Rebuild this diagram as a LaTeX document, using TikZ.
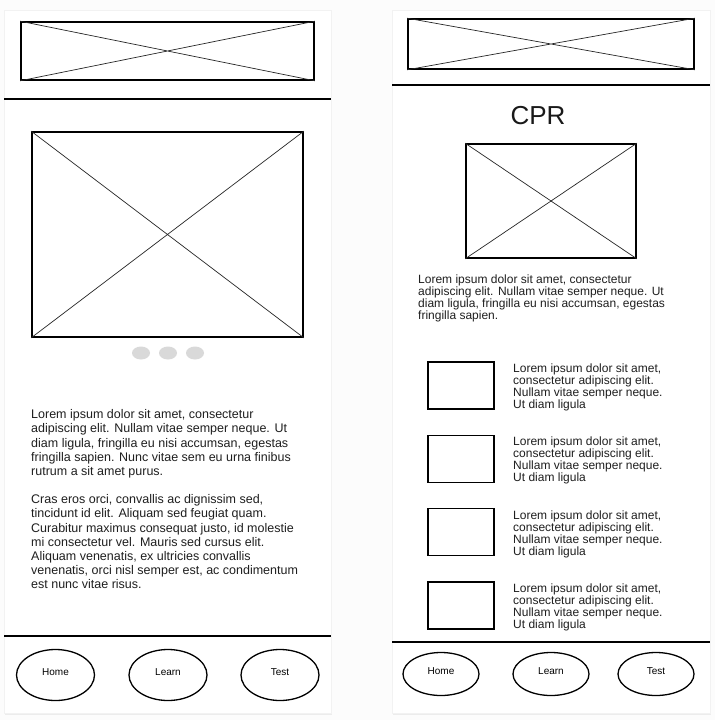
\documentclass[tikz,border=0pt]{standalone}
\usepackage{fontspec}
\setmainfont{Liberation Sans}
\usetikzlibrary{shapes.geometric,shadows}

\begin{document}
\begin{tikzpicture}[x=1pt,y=-1pt,
  panel/.style={fill=white, draw=black!5, drop shadow={opacity=0.12, shadow xshift=0.5pt, shadow yshift=-1.5pt}},
  imgbox/.style={draw, line width=1.6pt, inner sep=0pt},
  xline/.style={line width=0.7pt, black!85},
  sepline/.style={line width=1.4pt},
  dot/.style={ellipse, fill=black!15, minimum width=18pt, minimum height=13pt, inner sep=0pt},
  navbtn/.style={draw, ellipse, line width=1.3pt, inner sep=0pt, font=\fontsize{10}{12}\selectfont, text depth=5pt},
  bodytext/.style={align=left, inner sep=0pt, anchor=north west, text=black!88}]
  \useasboundingbox[fill=black!1] (0,0) rectangle (715,720);

  % home screen
  \fill[panel] (4,10) rectangle (331,713);
  \node[imgbox, minimum width=293pt, minimum height=58pt] (bannerL) at (167.5,51) {};
  \draw[sepline] (4,99)--(331,99);
  \node[imgbox, minimum width=271pt, minimum height=205pt] (slide) at (167.5,234.5) {};
  \foreach \x [count=\i] in {141,168,195}
    \node[dot] (dot\i) at (\x,353) {};
  \node[bodytext, font=\fontsize{12.5}{14.17}\selectfont] (introtext) at (31,409.5)
    {Lorem ipsum dolor sit amet, consectetur\\adipiscing elit. Nullam vitae semper neque. Ut\\diam ligula, fringilla eu nisi accumsan, egestas\\fringilla sapien. Nunc vitae sem eu urna finibus\\rutrum a sit amet purus.};
  \node[bodytext, font=\fontsize{12.5}{14.17}\selectfont] (moretext) at (31,494.4)
    {Cras eros orci, convallis ac dignissim sed,\\tincidunt id elit. Aliquam sed feugiat quam.\\Curabitur maximus consequat justo, id molestie\\mi consectetur vel. Mauris sed cursus elit.\\Aliquam venenatis, ex ultricies convallis\\venenatis, orci nisl semper est, ac condimentum\\est nunc vitae risus.};
  \draw[sepline] (4,636)--(331,636);
  \node[navbtn, minimum width=78pt, minimum height=51pt] (homeL) at (55.5,675) {Home};
  \node[navbtn, minimum width=78pt, minimum height=51pt] (learnL) at (168,675) {Learn};
  \node[navbtn, minimum width=78pt, minimum height=51pt] (testL) at (280,675) {Test};

  % CPR screen
  \fill[panel] (392,10) rectangle (710,713);
  \node[imgbox, minimum width=286pt, minimum height=50pt] (bannerR) at (551,44) {};
  \draw[sepline] (392,85)--(710,85);
  \node[font=\fontsize{26}{30}\selectfont, text=black!90] (title) at (538,116) {CPR};
  \node[imgbox, minimum width=170pt, minimum height=114pt] (cprimg) at (551,201) {};
  \node[bodytext, font=\fontsize{12}{12.3}\selectfont] (cprtext) at (418,274.2)
    {Lorem ipsum dolor sit amet, consectetur\\adipiscing elit. Nullam vitae semper neque. Ut\\diam ligula, fringilla eu nisi accumsan, egestas\\fringilla sapien.};
  \foreach \i in {1,...,4} {
    \node[imgbox, minimum width=66pt, minimum height=47pt] (step\i) at (461,{385.5+73.33*(\i-1)}) {};
    \node[bodytext, font=\fontsize{12}{12}\selectfont] (steptext\i) at (513,{363.6+73.33*(\i-1)})
      {Lorem ipsum dolor sit amet,\\consectetur adipiscing elit.\\Nullam vitae semper neque.\\Ut diam ligula};
  }
  \draw[sepline] (392,642)--(710,642);
  \node[navbtn, minimum width=76pt, minimum height=43pt] (homeR) at (441,674) {Home};
  \node[navbtn, minimum width=76pt, minimum height=43pt] (learnR) at (551,674) {Learn};
  \node[navbtn, minimum width=76pt, minimum height=43pt] (testR) at (656,674) {Test};

  \foreach \n in {bannerL,slide,bannerR,cprimg}
    \draw[xline] (\n.north west)--(\n.south east) (\n.north east)--(\n.south west);
\end{tikzpicture}
\end{document}
